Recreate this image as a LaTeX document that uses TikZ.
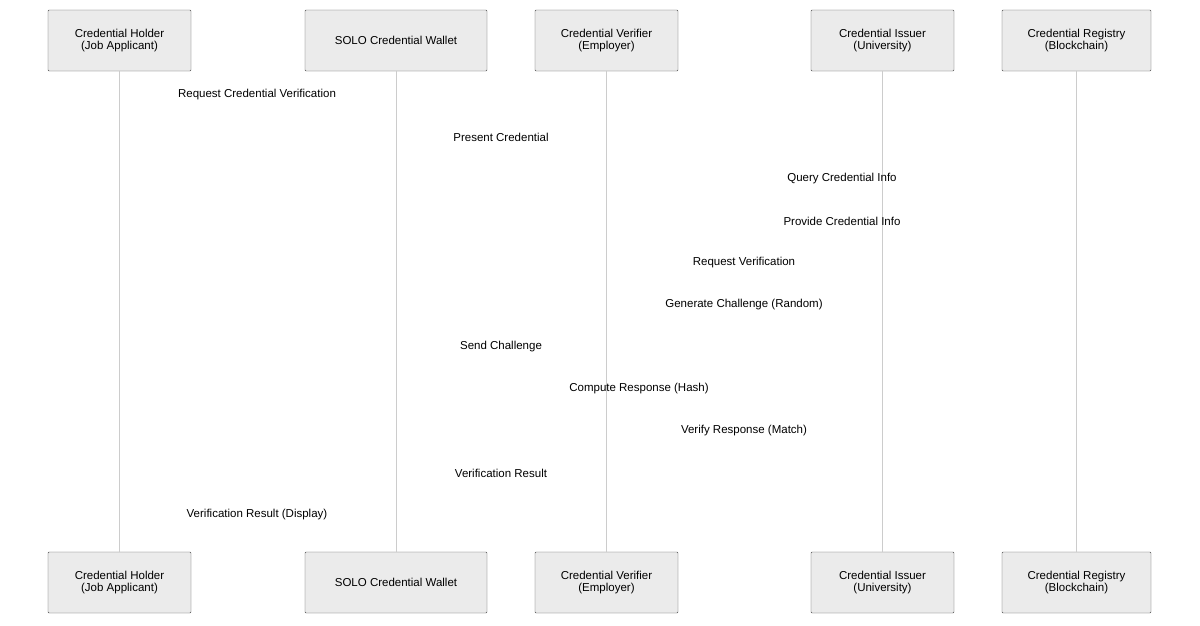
\documentclass[tikz,border=0pt]{standalone}
\usepackage{fontspec}
\setmainfont{Liberation Sans}
\begin{document}
\begin{tikzpicture}[x=1pt,y=-1pt,
 actor/.style={draw=black!70,fill=black!8,rounded corners=1pt,minimum height=61pt,align=center,font=\fontsize{11.5}{12}\selectfont,inner sep=2pt},
 msg/.style={font=\fontsize{11.5}{13}\selectfont,anchor=center},
 life/.style={draw=black!20,line width=0.6pt}]
\useasboundingbox (0,0) rectangle (1200,625);
\foreach \n/\x/\w/\t in {h/119.5/143/{Credential Holder\\(Job Applicant)},w/396/182/{SOLO Credential Wallet},v/606.5/143/{Credential Verifier\\(Employer)},i/882.5/143/{Credential Issuer\\(University)},r/1076.5/149/{Credential Registry\\(Blockchain)}}{
 \node[actor,minimum width=\w pt] (\n t) at (\x,40.5) {\t};
 \node[actor,minimum width=\w pt] (\n b) at (\x,582.5) {\t};
 \draw[life] (\n t.south) -- (\n b.north);
}
\node[msg] (m1) at (257,95) {Request Credential Verification};
\node[msg] (m2) at (501,137) {Present Credential};
\node[msg] (m3) at (842,179) {Query Credential Info};
\node[msg] (m4) at (842,221) {Provide Credential Info};
\node[msg] (m5) at (744,263) {Request Verification};
\node[msg] (m6) at (744,305) {Generate Challenge (Random)};
\node[msg] (m7) at (501,347) {Send Challenge};
\node[msg] (m8) at (639,389) {Compute Response (Hash)};
\node[msg] (m9) at (744,431) {Verify Response (Match)};
\node[msg] (m10) at (501,473) {Verification Result};
\node[msg] (m11) at (257,515) {Verification Result (Display)};
\end{tikzpicture}
\end{document}
